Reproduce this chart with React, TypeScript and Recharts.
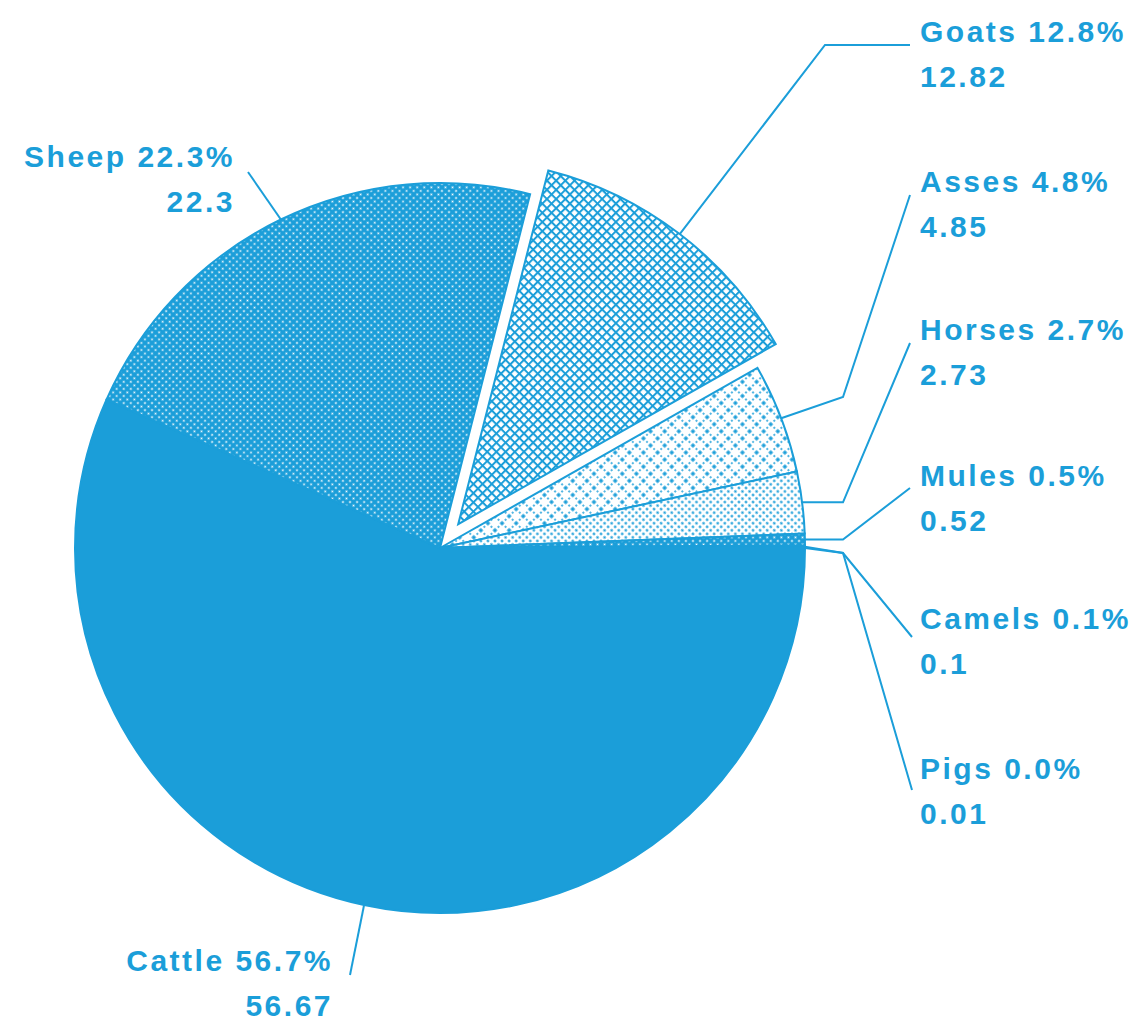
import { PieChart, Pie, Cell } from "recharts";

const names = ["Cattle", "Sheep", "Goats", "Asses", "Horses", "Mules", "Camels", "Pigs"];
const values = [56.67, 22.3, 12.82, 4.85, 2.73, 0.52, 0.1, 0.01];
const percents = ["56.7%", "22.3%", "12.8%", "4.8%", "2.7%", "0.5%", "0.1%", "0.0%"];
const explodedName = "Goats";

const BLUE = "#1b9ed9";
const CX = 440;
const CY = 548;
const R = 365;
const EXPLODE = 30;
const RAD = Math.PI / 180;

const fills: Record<string, string> = {
  Cattle: BLUE,
  Sheep: "url(#pSheep)",
  Goats: "url(#pGoats)",
  Asses: "url(#pAsses)",
  Horses: "url(#pHorses)",
  Mules: "url(#pSheep)",
  Camels: BLUE,
  Pigs: BLUE,
};

// where each label sits and how its leader line bends (null y = keep start y)
type Pt = [number, number | null];
const labelLayout: Record<string, { via: Pt[]; x: number; y: number; anchor: "start" | "end" }> = {
  Cattle: { via: [[350, 975]], x: 333, y: 971, anchor: "end" },
  Sheep: { via: [[248, 172]], x: 235, y: 167, anchor: "end" },
  Goats: { via: [[825, 45], [910, 45]], x: 920, y: 42, anchor: "start" },
  Asses: { via: [[843, 397], [910, 195]], x: 920, y: 192, anchor: "start" },
  Horses: { via: [[843, null], [910, 343]], x: 920, y: 340, anchor: "start" },
  Mules: { via: [[843, null], [910, 488]], x: 920, y: 486, anchor: "start" },
  Camels: { via: [[843, 553], [912, 637]], x: 920, y: 629, anchor: "start" },
  Pigs: { via: [[843, 553], [912, 790]], x: 920, y: 779, anchor: "start" },
};

const data = names.map((name, i) => ({ name, value: values[i], pct: percents[i] }));

const total = values.reduce((a, b) => a + b, 0);
const exIdx = names.indexOf(explodedName);
const before = values.slice(0, exIdx).reduce((a, b) => a + b, 0);
const exMid = -((before + values[exIdx] / 2) / total) * 360;
const exCx = CX + Math.cos(-exMid * RAD) * EXPLODE;
const exCy = CY + Math.sin(-exMid * RAD) * EXPLODE;

const textStyle = {
  fontFamily: "'Liberation Sans', Arial, sans-serif",
  fontWeight: 700,
  fontSize: 30,
  letterSpacing: 2.5,
};

function makeLabel(only: (name: string) => boolean) {
  return (props: any) => {
    const { cx, cy, midAngle, outerRadius, index } = props;
    const name = names[index];
    if (!only(name)) return null;
    const lay = labelLayout[name];
    const sx = cx + Math.cos(-midAngle * RAD) * outerRadius;
    const sy = cy + Math.sin(-midAngle * RAD) * outerRadius;
    const pts = [[sx, sy], ...lay.via.map(([x, y]) => [x, y == null ? sy : y])];
    return (
      <g key={`lbl-${name}`}>
        <polyline
          points={pts.map((p) => p.join(",")).join(" ")}
          fill="none"
          stroke={BLUE}
          strokeWidth={2}
        />
        <text x={lay.x} y={lay.y} textAnchor={lay.anchor} fill={BLUE} style={textStyle}>
          {`${name} ${percents[index]}`}
        </text>
        <text x={lay.x} y={lay.y + 45} textAnchor={lay.anchor} fill={BLUE} style={textStyle}>
          {String(values[index])}
        </text>
      </g>
    );
  };
}

function Patterns() {
  return (
    <svg width={0} height={0} style={{ position: "absolute" }}>
      <defs>
        <pattern id="pSheep" width={5} height={5} patternUnits="userSpaceOnUse" patternTransform="rotate(45)">
          <rect width={5} height={5} fill={BLUE} />
          <circle cx={2.5} cy={2.5} r={1} fill="#fff" />
        </pattern>
        <pattern id="pGoats" width={6.5} height={6.5} patternUnits="userSpaceOnUse" patternTransform="rotate(45)">
          <rect width={6.5} height={6.5} fill="#fff" />
          <rect width={6.5} height={2} fill={BLUE} />
          <rect width={2} height={6.5} fill={BLUE} />
        </pattern>
        <pattern id="pAsses" width={10} height={10} patternUnits="userSpaceOnUse" patternTransform="rotate(45)">
          <rect width={10} height={10} fill="#fff" />
          <rect x={3.3} y={3.3} width={3.4} height={3.4} fill={BLUE} />
          <circle cx={0} cy={5} r={1} fill={BLUE} />
          <circle cx={10} cy={5} r={1} fill={BLUE} />
          <circle cx={5} cy={0} r={1} fill={BLUE} />
          <circle cx={5} cy={10} r={1} fill={BLUE} />
        </pattern>
        <pattern id="pHorses" width={5} height={5} patternUnits="userSpaceOnUse" patternTransform="rotate(45)">
          <rect width={5} height={5} fill="#fff" />
          <circle cx={2.5} cy={2.5} r={1.3} fill={BLUE} />
        </pattern>
      </defs>
    </svg>
  );
}

export default function App() {
  return (
    <div style={{ position: "absolute", left: 0, top: 0, width: 1143, height: 1021, background: "#fff" }}>
      <Patterns />
      <PieChart width={1143} height={1021} margin={{ top: 0, right: 0, bottom: 0, left: 0 }}>
        <Pie
          data={data}
          dataKey="value"
          nameKey="name"
          cx={CX}
          cy={CY}
          outerRadius={R}
          startAngle={0}
          endAngle={-360}
          isAnimationActive={false}
          labelLine={false}
          label={makeLabel((n) => n !== explodedName)}
        >
          {names.map((n) => (
            <Cell
              key={n}
              fill={n === explodedName ? "none" : fills[n]}
              stroke={n === explodedName ? "none" : BLUE}
              strokeWidth={2}
            />
          ))}
        </Pie>
        <Pie
          data={data}
          dataKey="value"
          nameKey="name"
          cx={exCx}
          cy={exCy}
          outerRadius={R}
          startAngle={0}
          endAngle={-360}
          isAnimationActive={false}
          labelLine={false}
          label={makeLabel((n) => n === explodedName)}
        >
          {names.map((n) => (
            <Cell
              key={n}
              fill={n === explodedName ? fills[n] : "none"}
              stroke={n === explodedName ? BLUE : "none"}
              strokeWidth={2}
            />
          ))}
        </Pie>
      </PieChart>
    </div>
  );
}
